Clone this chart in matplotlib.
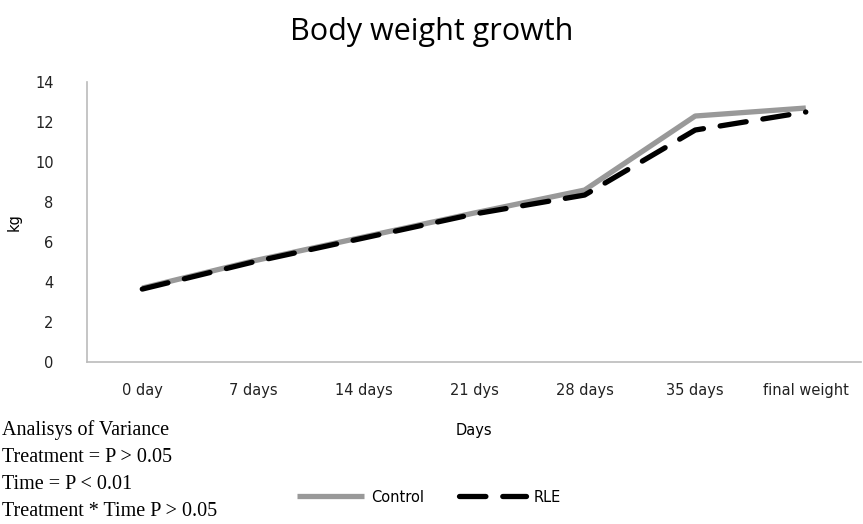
import matplotlib.pyplot as plt

days = ['0 day', '7 days', '14 days', '21 dys', '28 days', '35 days', 'final weight']
control = [3.7, 5.05, 6.25, 7.45, 8.6, 12.3, 12.7]
rle = [3.65, 5.0, 6.2, 7.4, 8.35, 11.6, 12.5]
anova_lines = ['Analisys of Variance',
               'Treatment = P > 0.05',
               'Time = P < 0.01',
               'Treatment * Time P > 0.05']

fig = plt.figure(figsize=(8.63, 5.24), dpi=100)
ax = fig.add_axes([0.1008, 0.309, 0.897, 0.5345])

x = range(len(days))
ax.plot(x, control, color='#999999', lw=3.8, solid_capstyle='butt', label='Control')
ax.plot(x, rle, color='black', lw=3.8, dashes=(5, 3.2), dash_capstyle='round', label='RLE')

ax.set_xlim(-0.5, len(days) - 0.5)
ax.set_ylim(0, 14)
ax.set_yticks(range(0, 15, 2))
ax.set_xticks(list(x))
ax.set_xticklabels(days)
ax.tick_params(length=0, labelsize=10.5, colors='#222222')
ax.tick_params(axis='y', pad=24)
ax.tick_params(axis='x', pad=15)
for s in ['top', 'right']:
    ax.spines[s].set_visible(False)
for s in ['left', 'bottom']:
    ax.spines[s].set_color('#bbbbbb')
    ax.spines[s].set_linewidth(1.2)

ax.set_xlabel('Days', fontsize=10.5, labelpad=18)
ax.set_ylabel('kg', fontsize=10.5, labelpad=10)
fig.text(0.5, 0.938, 'Body weight growth', ha='center', va='center',
         fontsize=22, family='Open Sans')

fig.legend(loc='center left', bbox_to_anchor=(297 / 863, 1 - 497 / 524), ncol=2,
           frameon=False, fontsize=10.5, handlelength=4.6, columnspacing=2.4,
           handletextpad=0.5, borderpad=0, borderaxespad=0)

for i, t in enumerate(anova_lines):
    fig.text(0.002, 1 - (430 + 27.3 * i) / 524, t, ha='left', va='center',
             fontsize=14.5, family='Liberation Serif')

fig.savefig('out.png', dpi=100)
